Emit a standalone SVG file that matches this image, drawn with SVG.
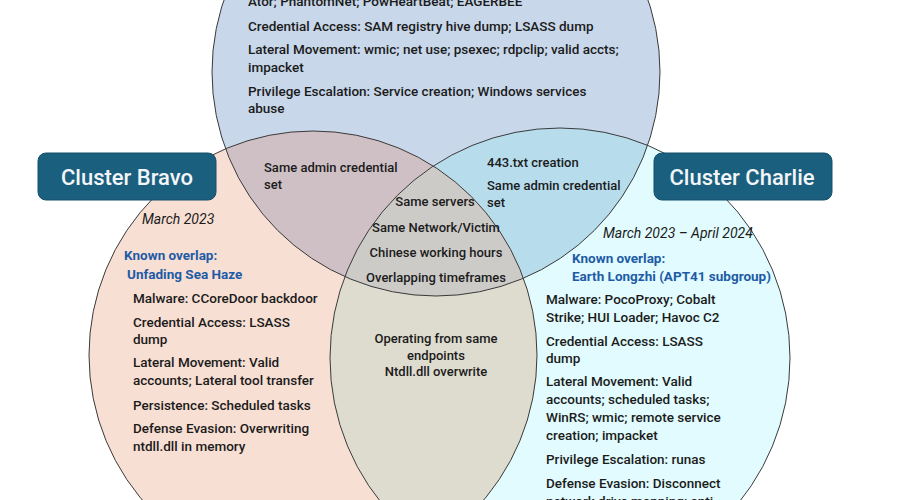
<svg xmlns="http://www.w3.org/2000/svg" width="900" height="500" viewBox="0 0 900 500">
<style>
.t{font-family:Roboto,"Liberation Sans",sans-serif;font-size:13.5px;font-weight:500;fill:#1b1b1b}
.c{font-size:13px}
.m{text-anchor:middle}
.i{font-style:italic;font-weight:400;font-size:14px}
.k{fill:#1e5ba6;font-weight:700}
.box{fill:#1b5f7f;stroke:#15506b;stroke-width:1}
.bt{font-family:Roboto,"Liberation Sans",sans-serif;font-size:22px;font-weight:500;fill:#f2f6f8;text-anchor:middle}
.ring{fill:none;stroke:#3a3a3a;stroke-width:1}
</style>
<defs>
<clipPath id="clipA"><circle cx="436" cy="72" r="224"/></clipPath>
<clipPath id="clipB"><circle cx="313" cy="355" r="224"/></clipPath>
<clipPath id="clipC"><circle cx="560" cy="358" r="230"/></clipPath>
</defs>
<rect width="900" height="500" fill="#ffffff"/>
<g id="venn">
<circle cx="436" cy="72" r="224" fill="#c8d7ea"/>
<circle cx="313" cy="355" r="224" fill="#f8dfd3"/>
<circle cx="560" cy="358" r="230" fill="#e1fbfe"/>
<g clip-path="url(#clipA)"><circle cx="313" cy="355" r="224" fill="#cfc0c6"/></g>
<g clip-path="url(#clipA)"><circle cx="560" cy="358" r="230" fill="#b7dded"/></g>
<g clip-path="url(#clipB)"><circle cx="560" cy="358" r="230" fill="#dedccf"/></g>
<g clip-path="url(#clipA)"><g clip-path="url(#clipB)"><circle cx="560" cy="358" r="230" fill="#cdcbc8"/></g></g>
<circle class="ring" cx="436" cy="72" r="224"/>
<circle class="ring" cx="313" cy="355" r="224"/>
<circle class="ring" cx="560" cy="358" r="230"/>
</g>
<g id="alpha-text">
<text class="t" x="248" y="6">Ator; PhantomNet; PowHeartBeat; EAGERBEE</text>
<text class="t" x="248" y="31">Credential Access: SAM registry hive dump; LSASS dump</text>
<text class="t" x="248" y="54">Lateral Movement: wmic; net use; psexec; rdpclip; valid accts;</text>
<text class="t" x="248" y="72">impacket</text>
<text class="t" x="248" y="96">Privilege Escalation: Service creation; Windows services</text>
<text class="t" x="248" y="113">abuse</text>
</g>
<g id="alpha-bravo">
<text class="t c" x="264" y="172">Same admin credential</text>
<text class="t c" x="264" y="189">set</text>
</g>
<g id="alpha-charlie">
<text class="t c" x="487" y="167">443.txt creation</text>
<text class="t c" x="487" y="190">Same admin credential</text>
<text class="t c" x="487" y="207">set</text>
</g>
<g id="all-three">
<text class="t c m" x="435" y="206">Same servers</text>
<text class="t c m" x="436" y="232">Same Network/Victim</text>
<text class="t c m" x="436" y="257">Chinese working hours</text>
<text class="t c m" x="436" y="282">Overlapping timeframes</text>
</g>
<g id="bravo-charlie">
<text class="t c m" x="436" y="343">Operating from same</text>
<text class="t c m" x="436" y="360">endpoints</text>
<text class="t c m" x="436" y="376">Ntdll.dll overwrite</text>
</g>
<g id="bravo-text">
<text class="t i" x="142" y="224">March 2023</text>
<text class="t k" x="124" y="260">Known overlap:</text>
<text class="t k" x="127" y="279">Unfading Sea Haze</text>
<text class="t" x="133" y="303">Malware: CCoreDoor backdoor</text>
<text class="t" x="133" y="327">Credential Access: LSASS</text>
<text class="t" x="133" y="344">dump</text>
<text class="t" x="133" y="367">Lateral Movement: Valid</text>
<text class="t" x="133" y="385">accounts; Lateral tool transfer</text>
<text class="t" x="133" y="410">Persistence: Scheduled tasks</text>
<text class="t" x="133" y="433">Defense Evasion: Overwriting</text>
<text class="t" x="133" y="451">ntdll.dll in memory</text>
</g>
<g id="charlie-text">
<text class="t i" x="603" y="238">March 2023 – April 2024</text>
<text class="t k" x="572" y="263">Known overlap:</text>
<text class="t k" x="572" y="281">Earth Longzhi (APT41 subgroup)</text>
<text class="t" x="546" y="304">Malware: PocoProxy; Cobalt</text>
<text class="t" x="546" y="322">Strike; HUI Loader; Havoc C2</text>
<text class="t" x="546" y="346">Credential Access: LSASS</text>
<text class="t" x="546" y="363">dump</text>
<text class="t" x="546" y="386">Lateral Movement: Valid</text>
<text class="t" x="546" y="404">accounts; scheduled tasks;</text>
<text class="t" x="546" y="422">WinRS; wmic; remote service</text>
<text class="t" x="546" y="440">creation; impacket</text>
<text class="t" x="546" y="464">Privilege Escalation: runas</text>
<text class="t" x="546" y="488">Defense Evasion: Disconnect</text>
<text class="t" x="546" y="506">network drive mapping; anti</text>
</g>
<g id="cluster-bravo">
<rect class="box" x="38" y="153" width="178" height="47" rx="8"/>
<text class="bt" x="127" y="185">Cluster Bravo</text>
</g>
<g id="cluster-charlie">
<rect class="box" x="654" y="153" width="178" height="47" rx="8"/>
<text class="bt" x="742" y="185">Cluster Charlie</text>
</g>
</svg>
